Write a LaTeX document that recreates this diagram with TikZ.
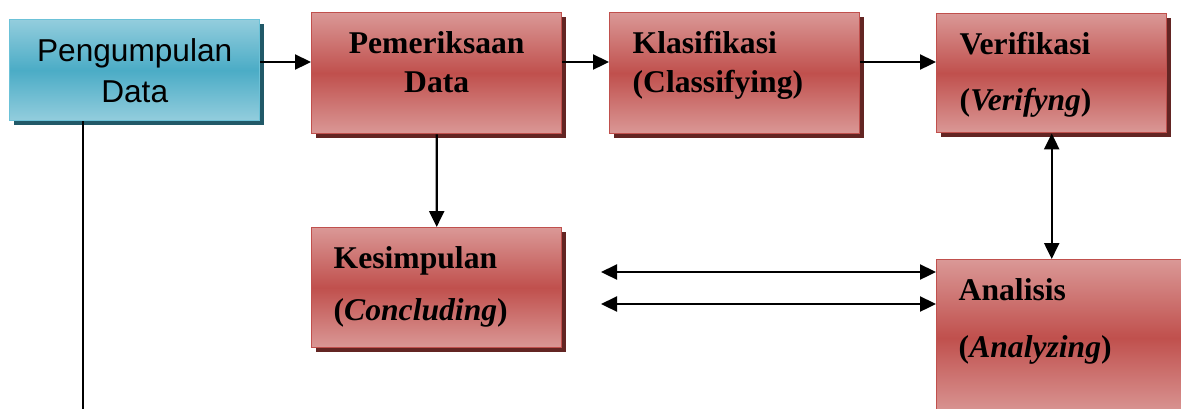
\documentclass[tikz,border=0pt]{standalone}
\usepackage{fontspec}
\setmainfont{Liberation Serif}
\newfontfamily\arialfont{Liberation Sans}
\usetikzlibrary{arrows.meta,shadows}

\definecolor{redmid}{HTML}{C0504D}
\definecolor{redlight}{HTML}{DA9896}
\definecolor{redshadow}{HTML}{632523}
\definecolor{bluemid}{HTML}{4BACC6}
\definecolor{bluelight}{HTML}{93CDDD}
\definecolor{blueline}{HTML}{6CC2D8}
\definecolor{blueshadow}{HTML}{215968}

\tikzset{
  redbox/.style={draw=redmid,line width=0.8pt,top color=redlight,bottom color=redlight,middle color=redmid,
    drop shadow={shadow xshift=0.08cm,shadow yshift=-0.08cm,fill=redshadow,opacity=1},
    anchor=north west,inner ysep=0pt,align=left,font=\bfseries\fontsize{18}{22}\selectfont},
  bluebox/.style={draw=blueline,line width=0.8pt,top color=bluelight,bottom color=bluelight,middle color=bluemid,
    drop shadow={shadow xshift=0.08cm,shadow yshift=-0.08cm,fill=blueshadow,opacity=1},
    anchor=north west,inner ysep=0pt,align=center,font=\arialfont\fontsize{18}{23.2}\selectfont},
  link/.style={line width=1.3pt,-{Triangle[length=0.32cm,width=0.3cm]}},
  dlink/.style={line width=1.3pt,{Triangle[length=0.32cm,width=0.3cm]}-{Triangle[length=0.32cm,width=0.3cm]}}
}

\begin{document}
\begin{tikzpicture}
\clip (0,0) rectangle (23.62,-8.16);

% top row
\node[bluebox,inner xsep=0pt,text width=5cm,text height=0.84cm,text depth=1.18cm] (pd) at (0.18,-0.38) {Pengumpulan\\Data};
\node[redbox,inner xsep=0pt,text width=5cm,align=center,text height=0.82cm,text depth=1.6cm] (pm) at (6.22,-0.24) {Pemeriksaan\\Data};
\node[redbox,inner xsep=0.46cm,text width=4.08cm,text height=0.82cm,text depth=1.6cm] (kl) at (12.18,-0.24) {Klasifikasi\\(Classifying)};
\node[redbox,inner xsep=0.46cm,text width=3.68cm,text height=0.82cm,text depth=1.56cm] (vr) at (18.72,-0.26) {Verifikasi\\[9.7pt](\textit{Verifyng})};

% bottom row
\node[redbox,inner xsep=0.44cm,text width=4.12cm,text height=0.82cm,text depth=1.58cm] (ks) at (6.22,-4.54) {Kesimpulan\\[7.5pt](\textit{Concluding})};
\node[redbox,inner xsep=0.44cm,text width=4.12cm,text height=0.82cm,text depth=2.3cm] (an) at (18.72,-5.18) {Analisis\\[10.3pt](\textit{Analyzing})};

\coordinate (row) at (0,-1.24);
\coordinate (tail) at (1.66,-8.3);
\coordinate (back1) at (12.02,-5.44);
\coordinate (back2) at (12.02,-6.08);

\draw[link] (pd.east |- row) -- (pm.west |- row);
\draw[link] (pm.east |- row) -- (kl.west |- row);
\draw[link] (kl.east |- row) -- (vr.west |- row);
\draw[link] (pm.south) -- (ks.north);
\draw[dlink] (vr.south) -- (vr.south |- an.north);
\draw[dlink] (back1) -- (an.west |- back1);
\draw[dlink] (back2) -- (an.west |- back2);
\draw[line width=1.3pt] (pd.south -| tail) -- (tail);
\end{tikzpicture}
\end{document}
